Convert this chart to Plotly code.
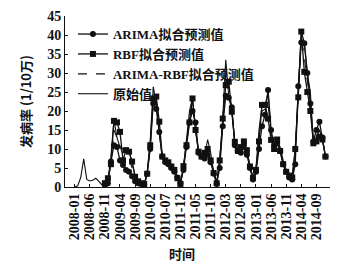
import plotly.graph_objects as go

months = [f"{y}-{m:02d}" for y in range(2008, 2015) for m in range(1, 13)]
tick_labels = ["2008-01", "2008-06", "2008-11", "2009-04", "2009-09", "2010-02", "2010-07",
               "2011-12", "2011-05", "2011-10", "2012-03", "2012-08", "2013-01", "2013-06",
               "2013-11", "2014-04", "2014-09"]

original = [0, 0.3, 2.5, 7.4, 2, 1.6, 1.8, 2.3, 1.5, 0.6,
            0.2, 1.5, 8, 17.8, 13, 10.5, 10, 9, 9.2, 6.5,
            3, 1.5, 0.8, 0.3, 4, 12, 26.4, 22, 14, 7.5,
            6.5, 6, 5, 4.5, 2.5, 0.8, 5, 12, 20, 23.5,
            15, 9, 8.5, 8, 12.5, 9, 4, 1, 7, 18,
            33.5, 24, 20, 12, 10, 10.5, 11.5, 9.5, 5.5, 2.5,
            5, 15, 21.5, 21.5, 25, 14, 11, 12.5, 10.5, 7,
            4.5, 3.5, 2.7, 10, 27, 41, 38, 30, 25, 11.5,
            13, 15, 12.5, 8]

arima = [None] * 10 + [
    0.5, 1, 6.7, 11, 10.5, 7, 5.8, 4.5, 4, 2.8,
    1.5, 1, 0.8, 0.5, 3.5, 10, 22, 20.5, 14.5, 8,
    6.5, 6, 5, 4, 2.5, 1, 4.5, 10.5, 17, 20,
    17, 9, 8, 7.5, 8.5, 6.5, 3.5, 0.8, 5, 16,
    24, 23.5, 21, 11, 9.5, 9, 11, 8.5, 5, 2,
    4, 10, 16, 19, 25.5, 15, 11, 11.5, 9.5, 6,
    4, 2.5, 2, 6, 26.5, 38, 37.8, 30, 22, 12,
    15, 17.2, 13, 8]

rbf = [None] * 10 + [
    1, 2.3, 6, 17.4, 17, 14.5, 7, 9.7, 9.3, 6.7,
    2.7, 1.5, 1, 0.8, 3.5, 11, 23.3, 23.8, 17.2, 8,
    7, 6.5, 5.4, 4.5, 2.3, 0.8, 5.5, 11, 17, 23.3,
    15, 9.3, 8, 9, 10, 7, 3.7, 1, 7, 18,
    26.8, 27.7, 19.8, 11.9, 9.5, 10.5, 12, 9.7, 5.4, 2.4,
    4.5, 12, 21.6, 21.6, 18, 12.4, 10, 12.5, 9.5, 6,
    4, 3, 2.5, 10, 23.6, 40.9, 30.3, 25, 20, 11.5,
    12, 13.2, 12.5, 8]

arima_rbf = [None] * 10 + [
    0.8, 1.8, 7, 15, 13, 11, 8.5, 8, 7.5, 5,
    2.5, 1.3, 0.9, 0.6, 3.8, 11, 24.5, 22.5, 15.5, 8,
    6.8, 6.2, 5.2, 4.3, 2.4, 0.9, 5, 11, 18.5, 22,
    15.5, 9, 8, 8.2, 10.5, 7.5, 3.8, 1, 6.5, 17.5,
    30, 25, 20.5, 11.5, 9.8, 10, 11.5, 9.2, 5.2, 2.3,
    4.5, 13, 20, 20.5, 22, 13.5, 10.5, 12, 9.8, 6.2,
    4.2, 3, 2.4, 8.5, 25, 39.5, 34, 27.5, 22, 11.5,
    13.5, 15, 12.7, 8]

x = list(range(len(months)))
tick_vals = list(range(0, 84, 5))

serif = "Liberation Serif, Times New Roman, Noto Sans CJK SC, serif"

fig = go.Figure()
fig.add_trace(go.Scatter(x=x, y=arima, mode="lines+markers", name="ARIMA拟合预测值",
                         line=dict(color="#111", width=1.3),
                         marker=dict(symbol="circle", size=6, color="#111")))
fig.add_trace(go.Scatter(x=x, y=rbf, mode="lines+markers", name="RBF拟合预测值",
                         line=dict(color="#111", width=1.3),
                         marker=dict(symbol="square", size=6, color="#111")))
fig.add_trace(go.Scatter(x=x, y=arima_rbf, mode="lines", name="ARIMA-RBF拟合预测值",
                         line=dict(color="#111", width=1.1, dash="dash")))
fig.add_trace(go.Scatter(x=x, y=original, mode="lines", name="原始值",
                         line=dict(color="#111", width=1.1)))

fig.update_layout(
    width=350, height=264,
    margin=dict(l=65, r=20, t=16, b=77),
    paper_bgcolor="white", plot_bgcolor="white",
    hovermode=False,
    font=dict(family=serif, size=12, color="#111", weight="bold"),
    showlegend=True,
    legend=dict(x=0.03, y=0.982, xanchor="left", yanchor="top",
                bgcolor="rgba(0,0,0,0)", tracegroupgap=0,
                font=dict(family=serif, size=13, color="#111", weight="bold"),
                itemwidth=30),
    xaxis=dict(range=[-3.2, 84.5], tickvals=tick_vals, ticktext=tick_labels,
               tickangle=-90, showgrid=False, zeroline=False, automargin=False,
               showline=True, linecolor="#111", linewidth=1,
               ticks="inside", ticklen=3, tickcolor="#111",
               tickfont=dict(family=serif, size=14, color="#111", weight="bold")),
    yaxis=dict(range=[0, 45], tickvals=list(range(0, 46, 5)),
               showgrid=False, zeroline=False, automargin=False,
               showline=True, linecolor="#111", linewidth=1,
               ticks="inside", ticklen=3, tickcolor="#111",
               tickfont=dict(family=serif, size=14, color="#111", weight="bold"),
               title=dict(text="发病率 (1/10万)", standoff=12,
                          font=dict(family="Noto Sans CJK SC", size=13, color="#111", weight="bold"))),
    annotations=[dict(text="时间", xref="paper", yref="paper", x=0.44, y=-0.39,
                      xanchor="center", yanchor="middle", showarrow=False,
                      font=dict(family="Noto Sans CJK SC", size=13, color="#111", weight="bold"))],
)

fig.write_html("out.html", config={"displayModeBar": False, "staticPlot": True},
               post_script="document.body.style.margin='0';document.body.style.overflow='hidden';")
